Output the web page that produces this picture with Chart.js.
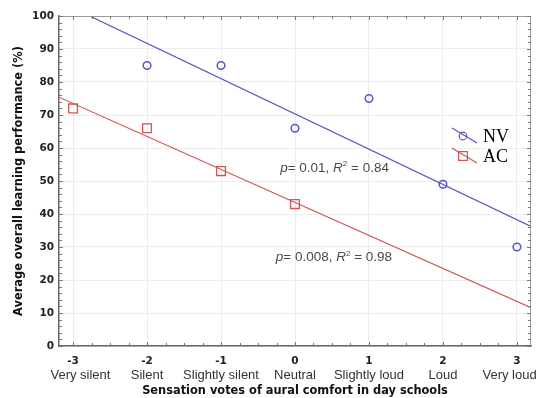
<!DOCTYPE html>
<html>
<head>
<meta charset="utf-8">
<script src="https://cdn.jsdelivr.net/npm/chart.js@4"></script>
<style>
  html, body { margin: 0; padding: 0; background: #fff; }
</style>
</head>
<body>
<canvas id="myChart" width="536" height="398"></canvas>
<script>
// vote scale and labels
const voteValues = [-3, -2, -1, 0, 1, 2, 3];
const voteNames = ['Very silent', 'Silent', 'Slightly silent', 'Neutral', 'Slightly loud', 'Loud', 'Very loud'];
const yTickValues = [0, 10, 20, 30, 40, 50, 60, 70, 80, 90, 100];

// series
const nvVotes = [-2, -1, 0, 1, 2, 3];
const nvScores = [85, 85, 66, 75, 49, 30];
const acVotes = [-3, -2, -1, 0];
const acScores = [72, 66, 53, 43];
const nvStats = ['0.01', '0.84'];
const acStats = ['0.008', '0.98'];

const xMin = -3.19, xMax = 3.19;
const nameInset = 0.1; // end names sit a little inside their ticks
const blue = '#5656c4';
const red = '#d05656';
const tickFont = { family: 'DejaVu Sans', size: 10.5, weight: 'bold' };
const titleFont = { family: 'DejaVu Sans', size: 11.4, weight: 'bold' };

const toPoints = (xs, ys) => xs.map((x, i) => ({ x: x, y: ys[i] }));

// least squares line through a series, drawn across the x range
const fitLine = (xs, ys) => {
	const n = xs.length;
	const mx = xs.reduce((a, b) => a + b, 0) / n;
	const my = ys.reduce((a, b) => a + b, 0) / n;
	let sxy = 0, sxx = 0;
	xs.forEach((x, i) => { sxy += (x - mx) * (ys[i] - my); sxx += (x - mx) * (x - mx); });
	const b = sxy / sxx;
	const a = my - b * mx;
	return [{ x: xMin, y: a + b * xMin }, { x: xMax, y: a + b * xMax }];
};

const setTicks = scale => { scale.ticks = voteValues.map(v => ({ value: v })); };
const setNameTicks = scale => {
	const last = voteValues.length - 1;
	scale.ticks = voteValues.map((v, i) => ({
		value: i === 0 ? v + nameInset : i === last ? v - nameInset : v
	}));
};
const noSidePad = s => { s.paddingLeft = 0; s.paddingRight = 0; };

// frame, minor ticks, stats text and legend
const extras = {
	id: 'extras',
	afterDraw(chart) {
		const { ctx, chartArea: ca, scales } = chart;
		const x = scales.x, y = scales.y;
		ctx.save();
		ctx.strokeStyle = '#9a9a9a';
		ctx.lineWidth = 1;
		ctx.beginPath();
		ctx.moveTo(ca.left, ca.top + 0.5); ctx.lineTo(ca.right - 0.5, ca.top + 0.5);
		ctx.lineTo(ca.right - 0.5, ca.bottom);
		ctx.stroke();

		ctx.strokeStyle = '#777';
		ctx.beginPath();
		for (let v = -3; v <= 3.001; v += 0.25) {
			const px = Math.round(x.getPixelForValue(v)) + 0.5;
			const len = Math.abs(v - Math.round(v)) < 0.01 ? 4 : 3;
			ctx.moveTo(px, ca.bottom); ctx.lineTo(px, ca.bottom - len);
			ctx.moveTo(px, ca.top); ctx.lineTo(px, ca.top + len);
		}
		for (let v = 0; v <= 100; v += 2) {
			const py = Math.round(y.getPixelForValue(v)) + 0.5;
			const len = v % 10 === 0 ? 4 : 3;
			ctx.moveTo(ca.left, py); ctx.lineTo(ca.left + len, py);
			ctx.moveTo(ca.right, py); ctx.lineTo(ca.right - len, py);
		}
		ctx.stroke();

		// p and R² notes
		const drawStats = (vx, vy, stats) => {
			let px = x.getPixelForValue(vx);
			const py = y.getPixelForValue(vy);
			ctx.fillStyle = '#4a4a4a';
			ctx.textBaseline = 'middle';
			ctx.textAlign = 'left';
			const parts = [
				['p', 'italic 13.5px "Liberation Sans"', 0],
				['= ' + stats[0] + ', ', '13.5px "Liberation Sans"', 0],
				['R', 'italic 13.5px "Liberation Sans"', 0],
				['2', '8px "Liberation Sans"', -4],
				[' = ' + stats[1], '13.5px "Liberation Sans"', 0]
			];
			parts.forEach(([t, f, dy]) => {
				ctx.font = f;
				ctx.fillText(t, px, py + dy);
				px += ctx.measureText(t).width;
			});
		};
		drawStats(-0.2, 54, nvStats);
		drawStats(-0.26, 26.8, acStats);

		// legend: slanted line sample with marker, serif label
		const drawKey = (ds, ly) => {
			const lx = 452;
			ctx.strokeStyle = ds.borderColor;
			ctx.fillStyle = 'rgba(0,0,0,0)';
			ctx.lineWidth = 1.2;
			ctx.beginPath();
			ctx.moveTo(lx, ly - 8); ctx.lineTo(lx + 25, ly + 7);
			ctx.stroke();
			Chart.helpers.drawPoint(ctx, {
				pointStyle: ds.pointStyle, radius: ds.pointRadius, borderWidth: ds.pointBorderWidth
			}, lx + 11, ly);
			ctx.fillStyle = '#000';
			ctx.font = '18px "Liberation Serif"';
			ctx.textBaseline = 'alphabetic';
			ctx.fillText(ds.label, lx + 31, ly + 6);
		};
		drawKey(chart.data.datasets[0], 136);
		drawKey(chart.data.datasets[1], 156);
		ctx.restore();
	}
};

const ctx = document.getElementById('myChart').getContext('2d');
let myChart = new Chart(ctx, {
	type: 'scatter',
	data: {
		datasets: [
			{
				label: 'NV',
				data: toPoints(nvVotes, nvScores),
				pointStyle: 'circle',
				pointRadius: 3.8,
				pointBorderWidth: 1.5,
				borderColor: blue,
				backgroundColor: 'rgba(0,0,0,0)'
			},
			{
				label: 'AC',
				data: toPoints(acVotes, acScores),
				pointStyle: 'rect',
				pointRadius: 6.2,
				pointBorderWidth: 1.3,
				borderColor: red,
				backgroundColor: 'rgba(0,0,0,0)'
			},
			{
				label: 'NV fit',
				data: fitLine(nvVotes, nvScores),
				showLine: true,
				pointRadius: 0,
				borderWidth: 1.2,
				borderColor: blue
			},
			{
				label: 'AC fit',
				data: fitLine(acVotes, acScores),
				showLine: true,
				pointRadius: 0,
				borderWidth: 1.2,
				borderColor: red
			}
		]
	},
	options: {
		responsive: false,
		animation: false,
		layout: { autoPadding: false, padding: { top: 16, right: 5, left: 0, bottom: 0 } },
		plugins: {
			legend: { display: false },
			tooltip: { enabled: false }
		},
		scales: {
			x: {
				type: 'linear',
				position: 'bottom',
				weight: 0,
				min: xMin,
				max: xMax,
				afterBuildTicks: setTicks,
				afterFit: s => { s.height = 20; noSidePad(s); },
				ticks: { font: tickFont, color: '#222', padding: 9, maxRotation: 0 },
				grid: { color: '#ececec', drawTicks: false },
				border: { color: '#666', width: 1.5 }
			},
			x2: {
				type: 'linear',
				position: 'bottom',
				weight: 1,
				min: xMin,
				max: xMax,
				afterBuildTicks: setNameTicks,
				afterFit: s => { s.height = 32; noSidePad(s); },
				ticks: {
					font: { family: 'Liberation Sans', size: 13 },
					color: '#333',
					padding: 2,
					maxRotation: 0,
					autoSkip: false,
					callback: (v, i) => voteNames[i]
				},
				grid: { display: false, drawTicks: false },
				border: { display: false },
				title: {
					display: true,
					text: 'Sensation votes of aural comfort in day schools',
					font: titleFont,
					color: '#111',
					padding: { top: 0, bottom: 0 }
				}
			},
			y: {
				min: 0,
				max: 100,
				afterBuildTicks: s => { s.ticks = yTickValues.map(v => ({ value: v })); },
				afterFit: s => { s.width = 59; },
				ticks: { font: tickFont, color: '#222', padding: 5 },
				grid: { color: '#ececec', drawTicks: false },
				border: { color: '#666', width: 1.5 },
				title: {
					display: true,
					text: 'Average overall learning performance (%)',
					font: titleFont,
					color: '#111',
					padding: { top: 12, bottom: 0 }
				}
			}
		}
	},
	plugins: [extras]
});
</script>
</body>
</html>
